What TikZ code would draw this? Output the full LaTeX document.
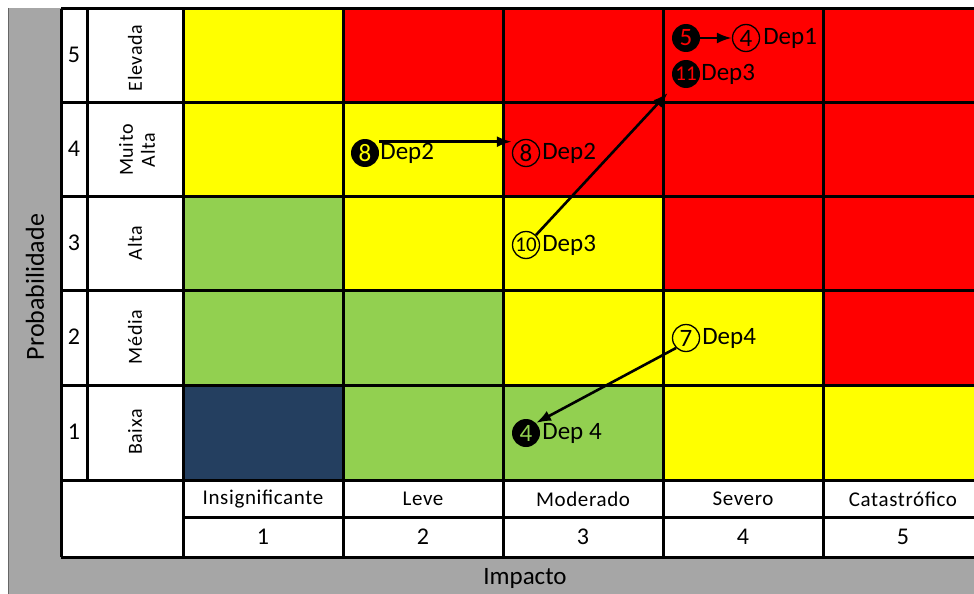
\documentclass[tikz,border=0pt]{standalone}
\usepackage{fontspec}
\setmainfont{Carlito}
\usetikzlibrary{arrows,arrows.meta,positioning,calc}

\definecolor{riskred}{HTML}{FF0000}
\definecolor{riskyellow}{HTML}{FFFF00}
\definecolor{riskgreen}{HTML}{92D050}
\definecolor{risknavy}{HTML}{243F60}
\definecolor{framegray}{HTML}{A6A6A6}

\tikzset{
  gridline/.style={line width=3pt},
  done/.style={circle,fill=black,inner sep=0pt,minimum size=28pt,font=\fontsize{25}{25}\selectfont},
  todo/.style={circle,draw=black,line width=1.3pt,inner sep=0pt,minimum size=27pt,font=\fontsize{25}{25}\selectfont},
  deplabel/.style={inner sep=1pt,font=\fontsize{25}{30}\selectfont},
  rownum/.style={font=\fontsize{24}{28}\selectfont},
  rowname/.style={rotate=90,align=center,font=\fontsize{20}{22}\selectfont\addfontfeature{LetterSpace=3}},
  colname/.style={font=\fontsize{21}{26}\selectfont\addfontfeature{LetterSpace=3}},
  move/.style={-{Latex[length=15pt,width=11pt]},line width=2.6pt},
}

\begin{document}
\begin{tikzpicture}[x=1pt,y=-1pt]
        \useasboundingbox (0,0) rectangle (974,594);
        \clip (0,0) rectangle (974,594);

        %%%% Frame =====================================
        \fill[framegray] (8,8) rectangle (990,610);
        \draw[black!60,line width=1pt] (8,8) -- (8,600);
        \fill[white] (61,9) rectangle (990,557);

        %%%% Cells =====================================
        % row 5 (top) to row 1
        \foreach \col [count=\c] in {riskyellow,riskred,riskred,riskred,riskred}
            \fill[\col] ({183+160*(\c-1)},9) rectangle ({183+160*\c},102);
        \foreach \col [count=\c] in {riskyellow,riskyellow,riskred,riskred,riskred}
            \fill[\col] ({183+160*(\c-1)},102) rectangle ({183+160*\c},196);
        \foreach \col [count=\c] in {riskgreen,riskyellow,riskyellow,riskred,riskred}
            \fill[\col] ({183+160*(\c-1)},196) rectangle ({183+160*\c},290);
        \foreach \col [count=\c] in {riskgreen,riskgreen,riskyellow,riskyellow,riskred}
            \fill[\col] ({183+160*(\c-1)},290) rectangle ({183+160*\c},385);
        \foreach \col [count=\c] in {risknavy,riskgreen,riskgreen,riskyellow,riskyellow}
            \fill[\col] ({183+160*(\c-1)},385) rectangle ({183+160*\c},480);

        %%%% Grid ======================================
        \foreach \y in {9,102,196,290,385,480,557}
            \draw[gridline] (61,\y) -- (990,\y);
        \draw[gridline] (183,517) -- (990,517);
        \draw[gridline] (61,9) -- (61,557);
        \draw[gridline] (87,9) -- (87,480);
        \foreach \x in {183,343,503,663,823}
            \draw[gridline] (\x,9) -- (\x,557);

        %%%% Probability axis ==========================
        \node[rownum] (n5) at (74,55) {5};
        \node[rownum] (n4) at (74,149) {4};
        \node[rownum] (n3) at (74,243) {3};
        \node[rownum] (n2) at (74,337) {2};
        \node[rownum] (n1) at (74,432) {1};
        \node[rowname] (l5) at (135,58) {Elevada};
        \node[rowname] (l4) at (137,150) {Muito\\Alta};
        \node[rowname] (l3) at (135,243) {Alta};
        \node[rowname] (l2) at (135,337) {Média};
        \node[rowname] (l1) at (135,432) {Baixa};
        \node[rotate=90,font=\fontsize{26}{30}\selectfont] (prob) at (35,287) {Probabilidade};

        %%%% Impact axis ===============================
        \node[colname] (h1) at (263,499) {Insignificante};
        \node[colname] (h2) at (423,499) {Leve};
        \node[colname] (h3) at (583,499) {Moderado};
        \node[colname] (h4) at (743,499) {Severo};
        \node[colname] (h5) at (903,499) {Catastrófico};
        \node[rownum] (i1) at (263,537) {1};
        \node[rownum] (i2) at (423,537) {2};
        \node[rownum] (i3) at (583,537) {3};
        \node[rownum] (i4) at (743,537) {4};
        \node[rownum] (i5) at (903,537) {5};
        \node[font=\fontsize{25}{30}\selectfont] (imp) at (525,578) {Impacto};

        %%%% Dependencies ==============================
        \node[done,text=riskred] (c5) at (686,38) {5};
        \node[todo] (c4) at (746,38) {4};
        \node[deplabel,right=2pt of c4] (dep1) {Dep1};
        \node[done,text=riskred,font=\fontsize{21}{21}\selectfont] (c11) at (686,74) {11};
        \node[deplabel,right=0pt of c11] (dep3b) {Dep3};

        \node[done,text=riskyellow] (c8) at (365,153) {8};
        \node[deplabel,right=0pt of c8] (dep2a) {Dep2};
        \node[todo] (c8b) at (526,153) {8};
        \node[deplabel,right=1pt of c8b] (dep2b) {Dep2};

        \node[todo,font=\fontsize{21}{21}\selectfont] (c10) at (526,245) {10};
        \node[deplabel,right=1pt of c10] (dep3a) {Dep3};

        \node[todo] (c7) at (686,338) {7};
        \node[deplabel,right=1pt of c7] (dep4a) {Dep4};
        \node[done,text=riskgreen] (c4b) at (526,433) {4};
        \node[deplabel,right=1pt of c4b] (dep4b) {Dep 4};

        % Arcs
        \draw[move] (c5) -- (c4);
        \draw[move] (dep2a.north west) -- (dep2a.north west -| c8b.west);
        \draw[move,shorten >=12pt] (c10.north east) -- (c11.south west);
        \draw[move] (c7.south west) -- (c4b.north east);
\end{tikzpicture}
\end{document}
